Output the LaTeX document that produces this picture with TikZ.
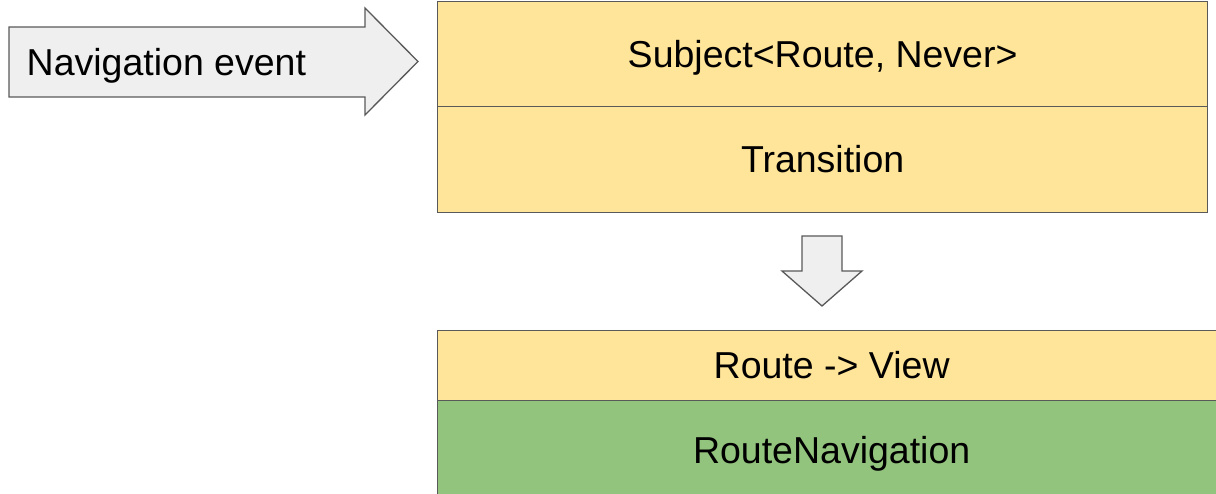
\documentclass[tikz,border=0pt]{standalone}
\usepackage{fontspec}
\setmainfont{Liberation Sans}
\definecolor{boxyellow}{HTML}{FFE599}
\definecolor{boxgreen}{HTML}{93C47D}
\definecolor{arrowgray}{HTML}{EFEFEF}
\definecolor{edgegray}{HTML}{595959}
\begin{document}
\begin{tikzpicture}[x=1pt,y=-1pt,
  lbl/.style={font=\fontsize{37.5}{45}\selectfont, text height=34pt, text depth=7.9pt, inner sep=0pt},
  box/.style={lbl, draw=edgegray, line width=1.3pt, rectangle, anchor=north west, minimum width=770pt},
  yellowbox/.style={box, fill=boxyellow},
  greenbox/.style={box, fill=boxgreen},
  blockarrow/.style={draw=edgegray, line width=1.3pt, fill=arrowgray, line join=miter}]
\useasboundingbox (0,0) rectangle (1216,494);
\clip (0,0) rectangle (1216,494);
% left block arrow
\draw[blockarrow] (9,27) -- (365,27) -- (365,8) -- (418,61.5) -- (365,115) -- (365,97) -- (9,97) -- cycle;
\node[lbl, anchor=west] (nav) at (26.5,62) {Navigation event};
% top stack
\node[yellowbox, minimum height=105pt] (subj) at (437,1) {Subject<Route, Never>};
\node[yellowbox, minimum height=106pt] (trans) at (437,106) {Transition};
% down block arrow
\draw[blockarrow] (802,236) -- (842,236) -- (842,271) -- (862,271) -- (822,306) -- (782,271) -- (802,271) -- cycle;
\coordinate (down) at (822,271);
% bottom stack
\node[yellowbox, minimum width=800pt, minimum height=70pt] (rv) at (437,330) {\hspace*{-12pt}Route -> View};
\node[greenbox, minimum width=800pt, minimum height=100pt] (rn) at (437,400) {\hspace*{-12pt}RouteNavigation};
\end{tikzpicture}
\end{document}
